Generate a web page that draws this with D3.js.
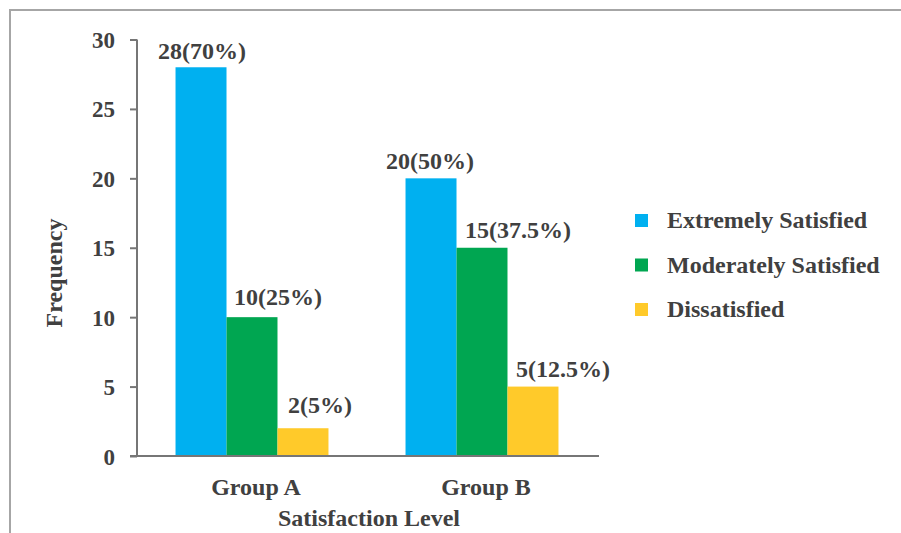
<!DOCTYPE html>
<html>
<head>
<meta charset="utf-8">
<script src="https://cdn.jsdelivr.net/npm/d3@7"></script>
<style>
  body { margin: 0; background: #fff; }
  text { font-family: "Liberation Serif", "Times New Roman", serif; font-weight: bold; fill: #404040; }
</style>
</head>
<body>
<script>
/** chart data */
var groups = ["Group A", "Group B"];
var seriesNames = ["Extremely Satisfied", "Moderately Satisfied", "Dissatisfied"];
var extremelySatisfied = [28, 20];
var moderatelySatisfied = [10, 15];
var dissatisfied = [2, 5];
var valueLabels = [["28(70%)", "20(50%)"], ["10(25%)", "15(37.5%)"], ["2(5%)", "5(12.5%)"]];
var yTicks = [0, 5, 10, 15, 20, 25, 30];

var seriesValues = [extremelySatisfied, moderatelySatisfied, dissatisfied];
var colors = ["#00B0F0", "#00A651", "#FFCA2A"];
// manual nudge of the value labels (they were moved by hand in the original)
var labelDx = [[1, -1], [26, 36], [17, 30]];
var labelDy = [[-8, -9], [-12, -10], [-15, -10]];

var width = 901, height = 533;
var axisColor = "#767676";

var svg = d3.select("body").append("svg")
  .attr("width", width)
  .attr("height", height);

// outer frame, runs off the right and bottom edge
svg.append("rect")
  .attr("x", 10).attr("y", 10)
  .attr("width", 920).attr("height", 560)
  .attr("fill", "none")
  .attr("stroke", "#a6a6a6")
  .attr("stroke-width", 2);

var x0 = d3.scaleBand()
  .domain(groups)
  .range([137, 597])
  .paddingInner(0.335)
  .paddingOuter(0.1675);

var x1 = d3.scaleBand()
  .domain(d3.range(seriesNames.length))
  .range([0, x0.bandwidth()]);

var y = d3.scaleLinear()
  .domain([0, 30])
  .range([456, 39.5]);

/** bars */
var series = svg.append("g").selectAll("g")
  .data(seriesValues)
  .join("g")
  .attr("fill", function(d, i){ return colors[i]; });

series.selectAll("rect")
  .data(function(d, i){ return d.map(function(v, j){ return {s: i, g: j, v: v}; }); })
  .join("rect")
  .attr("x", function(d){ return x0(groups[d.g]) + x1(d.s); })
  .attr("y", function(d){ return y(d.v); })
  .attr("width", x1.bandwidth())
  .attr("height", function(d){ return y(0) - y(d.v); });

series.selectAll("text")
  .data(function(d, i){ return d.map(function(v, j){ return {s: i, g: j, v: v}; }); })
  .join("text")
  .attr("x", function(d){ return x0(groups[d.g]) + x1(d.s) + x1.bandwidth() / 2 + labelDx[d.s][d.g]; })
  .attr("y", function(d){ return y(d.v) + labelDy[d.s][d.g]; })
  .attr("text-anchor", "middle")
  .style("font-size", "24px")
  .text(function(d){ return valueLabels[d.s][d.g]; });

/** y axis */
var yAxis = svg.append("g")
  .attr("transform", "translate(137,0)")
  .call(d3.axisLeft(y).tickValues(yTicks).tickSize(7).tickPadding(15));
yAxis.select(".domain").attr("stroke", axisColor).attr("stroke-width", 2)
  .attr("d", "M0," + y(30) + "V" + y(0));
yAxis.selectAll(".tick line").attr("stroke", axisColor).attr("stroke-width", 2);
yAxis.selectAll(".tick text")
  .attr("fill", null)
  .attr("dy", "0.35em")
  .style("font-size", "23px");
yAxis.attr("font-family", null).attr("font-size", null);

/** x axis */
var xAxis = svg.append("g")
  .attr("transform", "translate(0," + y(0) + ")")
  .call(d3.axisBottom(x0).tickSize(0).tickPadding(22));
xAxis.select(".domain").attr("stroke", axisColor).attr("stroke-width", 2)
  .attr("d", "M130,0H599");
xAxis.selectAll(".tick text")
  .attr("fill", null)
  .attr("dx", 4)
  .attr("dy", "0.71em")
  .style("font-size", "24px");
xAxis.attr("font-family", null).attr("font-size", null);

/** axis titles */
svg.append("text")
  .attr("x", 369).attr("y", 526)
  .attr("text-anchor", "middle")
  .style("font-size", "24px")
  .text("Satisfaction Level");

svg.append("text")
  .attr("transform", "translate(62,273) rotate(-90)")
  .attr("text-anchor", "middle")
  .style("font-size", "24px")
  .text("Frequency");

/** legend */
var legend = svg.append("g").selectAll("g")
  .data(seriesNames)
  .join("g")
  .attr("transform", function(d, i){ return "translate(635," + (214 + i * 44.5) + ")"; });

legend.append("rect")
  .attr("width", 13).attr("height", 13)
  .attr("fill", function(d, i){ return colors[i]; });

legend.append("text")
  .attr("x", 32).attr("y", 14)
  .style("font-size", "24px")
  .text(function(d){ return d; });
</script>
</body>
</html>
